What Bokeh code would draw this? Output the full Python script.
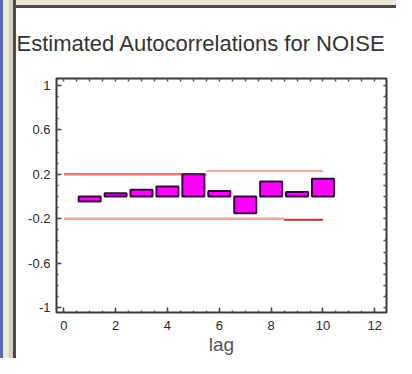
import numpy as np
from bokeh.plotting import figure
from bokeh.models import LinearAxis, FixedTicker, Range1d, Div
from bokeh.layouts import row, column
from bokeh.embed import file_html
from bokeh.resources import INLINE

# ---- data ----
title_text = "Estimated Autocorrelations for NOISE"
x_label = "lag"
lags = [1, 2, 3, 4, 5, 6, 7, 8, 9, 10]
acf = [-0.045, 0.03, 0.06, 0.09, 0.20, 0.05, -0.15, 0.135, 0.04, 0.16]
x_ticks = [0, 2, 4, 6, 8, 10, 12]
y_ticks = [-1, -0.6, -0.2, 0.2, 0.6, 1]
y_tick_labels = ["-1", "-0.6", "-0.2", "0.2", "0.6", "1"]
# probability limits (drawn as pieces)
upper_from = [0, 5.5]
upper_to = [5.5, 10]
upper_lim = [0.20, 0.23]
lower_from = [0, 8.5]
lower_to = [8.5, 10]
lower_lim = [-0.20, -0.21]

FONT = "Liberation Sans"

p = figure(width=380, height=350, output_backend="svg", toolbar_location=None,
           x_range=Range1d(-0.28, 12.45), y_range=Range1d(-1.045, 1.063),
           min_border_left=40, min_border_right=10, min_border_top=70,
           min_border_bottom=46, x_axis_location=None, y_axis_location=None)
p.grid.visible = False
p.background_fill_color = "white"
p.border_fill_color = "white"
p.outline_line_color = "#3a3a3a"
p.outline_line_width = 2


def style_axis(ax):
    ax.axis_line_color = None
    ax.major_tick_in = 5
    ax.major_tick_out = 0
    ax.minor_tick_in = 2
    ax.minor_tick_out = 0
    ax.major_tick_line_color = "#444444"
    ax.minor_tick_line_color = "#555555"
    ax.major_tick_line_width = 1.5
    ax.minor_tick_line_width = 1.5
    ax.major_label_text_font = FONT
    ax.major_label_text_font_size = "13px"
    ax.major_label_text_color = "#2a2a2a"


x_minor = list(np.arange(0, 12.01, 0.5))
y_minor = list(np.round(np.arange(-1, 1.01, 0.1), 2))
overrides = {t: s for t, s in zip(y_ticks, y_tick_labels)}

bx = LinearAxis(ticker=FixedTicker(ticks=x_ticks, minor_ticks=x_minor))
style_axis(bx)
bx.major_label_standoff = 8
bx.axis_label = x_label
bx.axis_label_text_font = FONT
bx.axis_label_text_font_size = "19px"
bx.axis_label_text_font_style = "normal"
bx.axis_label_text_color = "#555555"
bx.axis_label_standoff = 1
p.add_layout(bx, "below")

ly = LinearAxis(ticker=FixedTicker(ticks=y_ticks, minor_ticks=y_minor),
                major_label_overrides=overrides)
style_axis(ly)
ly.major_label_standoff = 6
p.add_layout(ly, "left")

# mirrored tick marks on top and right (no labels)
tx = LinearAxis(ticker=FixedTicker(ticks=[], minor_ticks=x_minor))
style_axis(tx)
tx.minor_tick_in = 3
p.add_layout(tx, "above")
ry = LinearAxis(ticker=FixedTicker(ticks=[], minor_ticks=y_minor))
style_axis(ry)
ry.minor_tick_in = 3
p.add_layout(ry, "right")

# probability limits
p.segment(x0=upper_from, y0=upper_lim, x1=upper_to, y1=upper_lim,
          line_color=["#e07a72", "#f0aaa4"], line_width=[2.5, 2])
p.segment(x0=lower_from, y0=lower_lim, x1=lower_to, y1=lower_lim,
          line_color=["#eda59e", "#c83030"], line_width=[2.5, 2])

# autocorrelation bars
p.vbar(x=lags, top=acf, bottom=0, width=0.85, fill_color="#ff00ff",
       line_color="#3c0044", line_width=2)

# title
p.title.text = title_text
p.title.text_font = FONT
p.title.text_font_size = "22px"
p.title.text_font_style = "normal"
p.title.text_color = "#333333"
p.title.align = "left"
p.title.vertical_align = "top"
p.title.offset = -40
p.title.standoff = 42

# window chrome (left strip and top strip)
left_strip = Div(text="", width=16, height=358, margin=0, styles={
    "background": "linear-gradient(to right, #5b6aae 0px, #5b6aae 3px, "
                  "#ebe8d8 3px, #ebe8d8 9px, #d4d0c0 9px, #d4d0c0 13px, "
                  "#4a4a4a 13px, #4a4a4a 16px)"})
top_strip = Div(text="", width=380, height=8, margin=0, styles={
    "background": "linear-gradient(to bottom, #ebe8d8 0px, #ebe8d8 5px, "
                  "#4a4a4a 5px, #4a4a4a 8px)"})

layout = row(left_strip, column(top_strip, p, spacing=0), spacing=0)

open("out.html", "w").write(file_html(layout, INLINE))
